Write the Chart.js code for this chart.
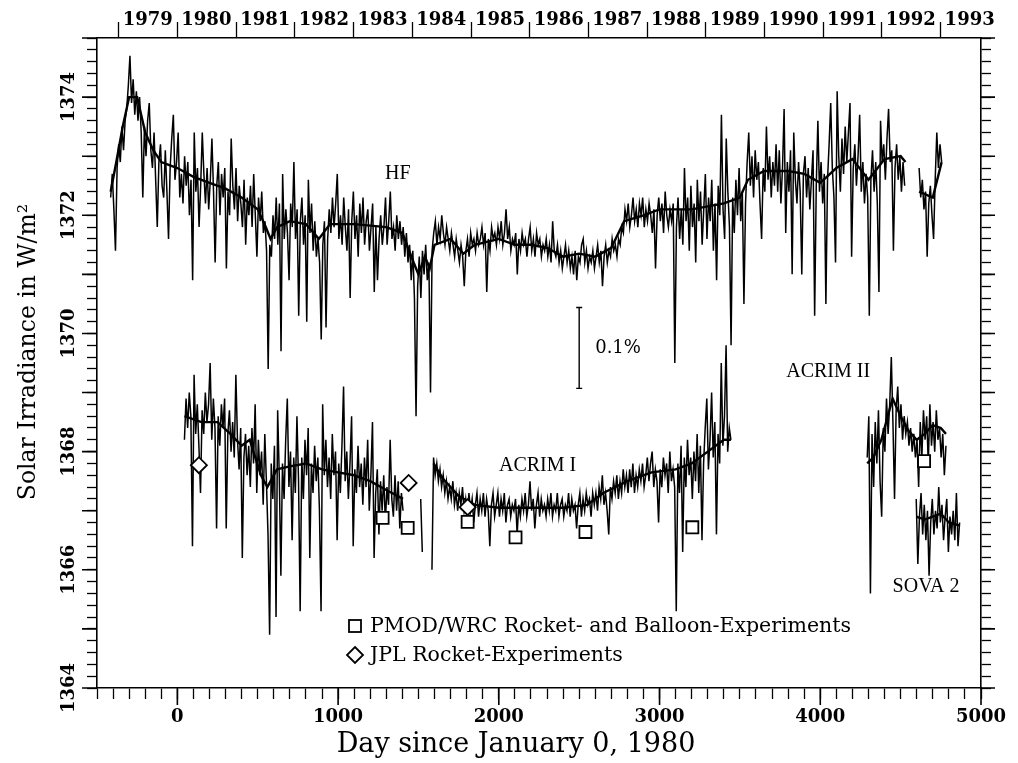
<!DOCTYPE html>
<html><head><meta charset="utf-8">
<script src="https://cdn.jsdelivr.net/npm/chart.js@4.4.0/dist/chart.umd.min.js"></script>
<style>html,body{margin:0;padding:0;background:#fff;}canvas{display:block;}</style>
</head><body>
<canvas id="c" width="1018" height="763"></canvas>
<script>
// ---------- DATA ----------
const dayStep = 10;
const hfStart = -415;
const hfValues = [
1372.3,1372.7,1372.1,1371.4,1372.8,1373.2,1372.9,1373.5,1373.1,1373.6,
1373.8,1374.2,1374.7,1373.9,1374.3,1373.7,1374.1,1373.6,1374.0,1373.4,
1372.3,1373.5,1373.0,1373.6,1373.9,1373.1,1372.8,1373.4,1372.6,1371.8,
1372.9,1373.2,1372.5,1372.3,1373.1,1372.4,1371.6,1372.8,1373.3,1373.7,
1372.6,1372.9,1373.4,1372.3,1372.7,1372.2,1373.0,1372.5,1372.9,1372.0,
1372.6,1370.9,1373.4,1372.4,1372.8,1371.8,1372.5,1373.4,1372.7,1372.2,
1372.8,1372.1,1372.6,1373.3,1372.4,1371.2,1372.5,1372.9,1372.0,1372.7,
1372.3,1372.8,1371.1,1372.4,1372.0,1373.3,1372.5,1372.1,1372.8,1371.9,
1372.5,1372.2,1371.8,1372.6,1371.5,1372.3,1372.0,1372.5,1371.8,1372.7,
1372.0,1371.3,1372.3,1371.9,1372.4,1371.7,1371.9,1371.4,1369.4,1371.5,
1371.3,1372.0,1371.6,1372.3,1371.5,1372.2,1369.7,1372.7,1371.6,1372.1,
1371.7,1370.9,1372.2,1371.8,1372.9,1371.6,1372.1,1370.3,1371.9,1372.3,
1371.5,1372.0,1370.2,1372.6,1371.7,1372.2,1371.4,1371.9,1371.3,1371.6,
1371.2,1369.9,1371.5,1371.9,1370.1,1371.6,1372.1,1371.7,1372.3,1371.8,
1372.2,1372.7,1371.6,1372.0,1371.5,1372.3,1371.8,1371.4,1372.1,1370.6,
1371.9,1372.4,1371.6,1372.0,1371.3,1372.2,1371.7,1372.3,1371.5,1371.9,
1372.1,1371.4,1371.8,1372.2,1370.7,1371.8,1370.9,1371.6,1372.0,1371.5,
1371.8,1372.3,1371.5,1371.9,1372.4,1371.6,1371.8,1371.4,1372.0,1371.6,
1371.9,1371.5,1371.8,1371.3,1371.7,1371.2,1371.5,1370.9,1371.4,1370.6,
1368.6,1370.8,1371.3,1370.6,1371.4,1371.0,1371.5,1370.9,1371.2,1369.0,
1371.4,1371.7,1371.9,1371.5,1371.8,1371.6,1372.0,1371.7,1371.5,1371.8,
1371.6,1371.4,1371.7,1371.5,1371.3,1371.6,1371.4,1371.2,1371.5,1371.3,
1370.8,1371.4,1371.6,1371.3,1371.7,1371.5,1371.6,1371.4,1371.7,1371.5,
1371.6,1371.8,1371.5,1371.7,1370.7,1371.6,1371.4,1371.8,1371.6,1371.7,
1371.5,1371.8,1371.6,1371.9,1371.5,1371.7,1372.1,1371.6,1371.8,1371.4,
1371.6,1371.5,1371.7,1371.0,1371.6,1371.4,1371.7,1371.5,1371.6,1371.3,
1371.6,1371.8,1371.4,1371.6,1371.3,1371.7,1371.5,1371.6,1371.3,1371.5,
1371.4,1371.6,1371.3,1371.5,1371.2,1371.9,1371.4,1371.3,1371.5,1371.2,
1371.4,1371.1,1371.3,1371.5,1371.2,1371.4,1371.1,1371.3,1371.0,1371.4,
1370.9,1371.3,1371.2,1371.5,1371.6,1371.2,1371.4,1371.1,1371.3,1371.2,
1371.4,1371.1,1371.3,1371.5,1371.2,1371.4,1370.8,1371.3,1371.5,1371.2,
1371.4,1371.3,1371.6,1371.4,1371.5,1371.3,1371.6,1371.5,1371.8,1371.7,
1372.1,1371.9,1372.2,1371.8,1372.0,1372.3,1371.9,1372.1,1371.8,1372.2,
1372.0,1372.3,1371.8,1372.1,1371.9,1372.2,1372.0,1371.7,1372.1,1371.1,
1372.0,1372.3,1371.9,1372.2,1371.7,1372.4,1372.0,1371.8,1372.1,1371.9,
1372.2,1369.5,1371.8,1372.3,1371.6,1372.1,1371.5,1372.8,1371.9,1372.3,
1371.4,1372.5,1371.8,1372.2,1371.2,1372.6,1371.9,1372.4,1371.5,1372.1,
1372.7,1371.6,1372.3,1371.9,1372.6,1371.4,1372.2,1370.9,1372.5,1372.0,
1373.7,1372.1,1371.6,1373.3,1372.4,1371.8,1369.8,1372.3,1371.7,1372.6,
1372.0,1372.8,1371.9,1372.4,1370.5,1372.2,1372.9,1373.4,1372.5,1373.0,
1372.3,1373.1,1372.6,1372.9,1372.2,1371.6,1372.8,1372.4,1373.5,1372.6,
1373.0,1372.3,1372.9,1372.5,1373.2,1372.4,1373.1,1372.2,1372.8,1373.8,
1371.7,1372.9,1372.4,1373.1,1371.0,1373.4,1372.6,1372.2,1372.9,1372.4,
1371.0,1372.7,1373.0,1372.3,1372.8,1372.1,1372.6,1373.1,1370.3,1372.5,
1373.6,1372.4,1372.9,1372.2,1372.7,1370.5,1372.6,1373.2,1373.9,1372.8,
1372.3,1371.2,1374.1,1373.0,1372.4,1373.3,1372.7,1373.5,1372.9,1373.4,
1373.9,1371.3,1372.8,1373.2,1372.5,1373.0,1373.7,1372.4,1372.9,1372.2,
1372.7,1372.3,1370.3,1372.6,1373.1,1372.4,1372.9,1372.2,1370.7,1373.6,
1372.9,1373.2,1372.6,1373.3,1373.8,1372.9,1373.1,1371.4,1372.8,1373.2,
1372.6,1373.0,1372.4,1372.9,1372.5,
null,null,null,null,null,null,null,null,
1372.8,1372.3,1372.6,1372.1,1372.4,1371.3,1372.2,1372.5,1372.0,1371.6,
1372.6,1373.4,1372.8,1373.2,1372.9
];
const hfSmoothDays = [-415,-380,-340,-300,-250,-200,-150,-100,-50,0,100,200,300,400,500,550,580,620,700,800,880,950,1100,1300,1400,1470,1500,1540,1570,1600,1700,1780,1850,2000,2100,2200,2300,2400,2500,2600,2700,2780,2900,3000,3100,3200,3300,3400,3500,3550,3650,3800,3900,4000,4100,4200,4300,4400,4500,4530,4570,4615,4700,4755];
const hfSmoothVals = [1372.4,1372.9,1373.5,1374.0,1374.0,1373.4,1373.1,1372.9,1372.85,1372.8,1372.65,1372.55,1372.45,1372.3,1372.1,1371.8,1371.6,1371.8,1371.9,1371.85,1371.6,1371.85,1371.85,1371.8,1371.7,1371.2,1371.0,1371.3,1371.1,1371.5,1371.6,1371.35,1371.5,1371.6,1371.5,1371.5,1371.45,1371.3,1371.35,1371.3,1371.45,1371.9,1372.0,1372.1,1372.1,1372.1,1372.15,1372.2,1372.3,1372.6,1372.75,1372.75,1372.7,1372.55,1372.8,1372.95,1372.6,1372.95,1373.0,1372.9,null,1372.4,1372.3,1372.9];

const acrim1Start = 44;
const acrim1Values = [
1368.2,1368.9,1368.4,1369.0,1368.6,1366.4,1369.3,1368.3,1368.8,1368.1,
1367.3,1368.7,1368.3,1369.0,1368.5,1368.8,1369.5,1368.2,1368.9,1368.4,
1366.7,1368.6,1368.1,1368.8,1368.4,1368.9,1366.7,1368.3,1368.7,1368.0,
1368.5,1367.9,1369.3,1368.2,1367.7,1368.4,1366.2,1367.9,1368.3,1367.6,
1368.1,1367.4,1368.4,1367.8,1368.8,1367.3,1368.2,1367.6,1368.0,1367.1,
1368.3,1367.5,1366.6,1364.9,1367.8,1367.2,1368.1,1365.2,1368.7,1367.6,
1365.9,1367.8,1367.2,1368.2,1368.9,1367.4,1368.0,1366.5,1367.9,1367.3,
1368.6,1367.5,1365.3,1367.9,1367.2,1368.2,1367.6,1368.4,1366.2,1367.8,
1367.3,1368.1,1367.5,1367.9,1367.0,1365.3,1368.8,1367.6,1368.2,1367.4,
1367.9,1367.2,1368.3,1367.6,1368.0,1366.5,1367.8,1367.3,1368.1,1369.1,
1367.5,1368.0,1367.2,1367.8,1368.6,1366.4,1367.7,1367.3,1368.1,1367.4,
1367.8,1367.1,1367.9,1367.4,1368.2,1367.0,1367.6,1368.5,1366.2,1367.3,
1367.7,1366.6,1367.5,1367.0,1367.6,1366.8,1367.4,1367.1,1368.2,1367.2,
1366.9,1367.6,1367.0,1367.5,1366.7,1367.3,1367.0,
null,null,null,null,null,null,null,null,null,null,
1367.2,1366.3,
null,null,null,null,null,
1366.0,
1367.9,1367.6,1367.8,1367.5,1367.7,1367.4,1367.6,1367.3,1367.5,1367.2,
1367.4,1367.2,1367.5,1367.1,1367.3,1367.0,1367.3,1367.1,1367.4,1367.0,
1367.2,1366.9,1367.3,1367.0,1367.2,1366.8,1367.1,1367.3,1366.9,1367.2,
1367.0,1367.3,1366.9,1367.2,1367.0,1366.4,1367.1,1367.3,1366.9,1367.1,
1367.3,1366.9,1367.2,1367.0,1367.3,1366.8,1367.1,1367.2,1366.9,1367.1,
1367.0,1367.2,1366.6,1367.1,1366.9,1367.2,1367.0,1367.3,1366.9,1367.1,
1367.5,1367.0,1367.2,1366.7,1367.1,1367.3,1366.9,1367.2,1367.0,1367.1,
1366.9,1367.2,1367.0,1367.3,1366.9,1367.1,1367.0,1367.3,1366.9,1367.1,
1367.2,1366.9,1367.1,1367.0,1367.3,1366.9,1367.2,1367.0,1367.1,1366.7,
1367.1,1367.3,1366.9,1367.2,1367.0,1367.3,1367.1,1367.2,1366.9,1367.3,
1367.1,1367.3,1367.0,1367.4,1367.2,1367.6,1367.1,1367.3,1367.0,1366.6,
1367.4,1367.2,1367.5,1367.3,1367.6,1367.2,1367.5,1367.3,1367.7,1367.4,
1367.6,1367.3,1367.7,1367.4,1367.8,1367.3,1367.6,1367.4,1367.7,1367.5,
1367.8,1367.4,1367.6,1367.9,1367.5,1367.8,1368.0,1367.4,1367.7,1367.5,
1366.8,1367.7,1367.4,1367.9,1367.6,1367.8,1367.3,1368.0,1367.5,1367.7,
1367.4,1365.3,1367.8,1367.3,1368.1,1366.3,1367.9,1367.4,1368.2,1367.6,
1367.9,1367.2,1368.0,1367.5,1368.3,1367.3,1368.1,1366.5,1367.8,1368.4,
1368.9,1367.7,1368.2,1369.0,1367.9,1368.5,1366.6,1368.3,1367.8,1369.5,
1368.1,1368.6,1369.8,1368.0,1368.4,1368.2
];
const acrim1SmoothDays = [44,150,250,330,400,450,520,560,620,700,800,900,1000,1100,1200,1300,1404,1500,1594,1650,1750,1850,2000,2200,2400,2550,2650,2800,2950,3100,3200,3300,3400,3444];
const acrim1SmoothVals = [1368.6,1368.5,1368.5,1368.3,1368.1,1368.2,1367.6,1367.4,1367.7,1367.75,1367.8,1367.7,1367.65,1367.6,1367.5,1367.35,1367.2,null,1367.8,1367.55,1367.25,1367.1,1367.05,1367.05,1367.05,1367.1,1367.3,1367.5,1367.65,1367.7,1367.8,1368.0,1368.2,1368.2];

const acrim2Start = 4292;
const acrim2Values = [
1367.9,1368.6,1365.6,1368.3,1367.4,1368.5,1367.8,1368.7,1367.5,1366.9,
1368.4,1368.0,1368.9,1368.3,1368.8,1369.6,1368.5,1367.2,1368.7,1369.1,
1368.4,1368.8,1368.2,1368.6,1368.3,1368.5,1368.1,1368.4,1368.0,1368.3,
1367.9,1368.2,1367.4,1368.5,1367.9,1368.7,1368.2,1368.6,1367.8,1368.8,
1368.1,1368.5,1368.0,1368.7,1368.2,1368.4,1367.9,1368.3,1367.6,1368.1
];
const acrim2SmoothDays = [4292,4330,4380,4420,4450,4500,4550,4600,4650,4700,4750,4782];
const acrim2SmoothVals = [1367.8,1367.9,1368.2,1368.6,1368.9,1368.6,1368.35,1368.2,1368.3,1368.45,1368.4,1368.3];

const sovaStart = 4597;
const sovaValues = [
1367.2,1366.1,1366.9,1367.3,1366.6,1367.1,1366.5,1367.0,1365.9,1366.8,
1367.2,1366.6,1367.0,1366.7,1367.4,1366.8,1367.1,1366.5,1366.9,1367.2,
1366.3,1366.9,1366.6,1367.0,1366.5,1367.3,1366.4,1366.8
];
const sovaSmoothDays = [4597,4650,4700,4750,4800,4867];
const sovaSmoothVals = [1366.9,1366.85,1366.9,1366.95,1366.8,1366.75];

const pmodDays = [1277,1433,1806,2104,2539,3204,4646];
const pmodVals = [1366.88,1366.71,1366.81,1366.55,1366.64,1366.72,1367.84];
const jplDays = [134,1439,1806];
const jplVals = [1367.77,1367.47,1367.06];

const yearStartDays = [-365,0,366,731,1096,1461,1827,2192,2557,2922,3288,3653,4018,4383,4749];
const yearLabels = ['1979','1980','1981','1982','1983','1984','1985','1986','1987','1988','1989','1990','1991','1992','1993'];
const xLabelValues = [0,1000,2000,3000,4000,5000];
const yLabelValues = [1364,1366,1368,1370,1372,1374];
const yMajorValues = [1364,1365,1366,1367,1368,1369,1370,1371,1372,1373,1374,1375];

const seriesLabels = {hf:'HF', a1:'ACRIM I', a2:'ACRIM II', sova:'SOVA 2'};
const legendLabels = ['PMOD/WRC Rocket- and Balloon-Experiments','JPL Rocket-Experiments'];
const xTitle = 'Day since January 0, 1980';
const yTitle = 'Solar Irradiance in W/m\u00B2';
const scaleBar = {day:2500, low:1369.07, high:1370.44, label:'0.1%'};
const textAnchors = [
  {t:seriesLabels.hf, d:1371, v:1372.71},
  {t:seriesLabels.a1, d:2241, v:1367.76},
  {t:seriesLabels.a2, d:4049, v:1369.35},
  {t:seriesLabels.sova, d:4658, v:1365.71}
];

// ---------- BUILD ----------
const regular = (start, vals) => vals.map((v,i)=>({x:start+i*dayStep, y:v}));
const paired = (days, vals) => days.map((d,i)=>({x:d, y:vals[i]}));

const lineDs = (data, w) => ({type:'line', data, borderColor:'#000', borderWidth:w, pointRadius:0, tension:0, spanGaps:false, order:2});

const datasets = [
  {type:'scatter', data:paired(pmodDays,pmodVals), pointStyle:'rect', pointRadius:8.5, backgroundColor:'#fff', borderColor:'#000', borderWidth:1.8, order:0},
  {type:'scatter', data:paired(jplDays,jplVals), pointStyle:'rectRot', pointRadius:8, backgroundColor:'#fff', borderColor:'#000', borderWidth:1.8, order:0},
  Object.assign(lineDs(paired(hfSmoothDays,hfSmoothVals),2.4),{order:1}),
  Object.assign(lineDs(paired(acrim1SmoothDays,acrim1SmoothVals),2.4),{order:1}),
  Object.assign(lineDs(paired(acrim2SmoothDays,acrim2SmoothVals),2.4),{order:1}),
  Object.assign(lineDs(paired(sovaSmoothDays,sovaSmoothVals),2.4),{order:1}),
  lineDs(regular(hfStart,hfValues),1.5),
  lineDs(regular(acrim1Start,acrim1Values),1.5),
  lineDs(regular(acrim2Start,acrim2Values),1.5),
  lineDs(regular(sovaStart,sovaValues),1.5)
];

const tickFont = {family:'"DejaVu Serif"', size:18, weight:'bold'};

const overlay = {
  id:'overlay',
  afterDraw(chart){
    const {ctx, chartArea:a, scales:{x,y}} = chart;
    ctx.save();
    ctx.strokeStyle='#000'; ctx.fillStyle='#000';
    ctx.lineWidth=1.6;
    ctx.beginPath();
    for(const v of yMajorValues){const py=y.getPixelForValue(v); ctx.moveTo(a.left-15,py); ctx.lineTo(a.left,py); ctx.moveTo(a.right,py); ctx.lineTo(a.right+14,py);}
    for(const v of xLabelValues){const px=x.getPixelForValue(v); ctx.moveTo(px,a.bottom); ctx.lineTo(px,a.bottom+17);}
    ctx.stroke();
    ctx.font='bold 18px "DejaVu Serif"';
    ctx.textAlign='center'; ctx.textBaseline='middle';
    for(const v of yLabelValues){const py=y.getPixelForValue(v); ctx.save(); ctx.translate(a.left-28,py); ctx.rotate(-Math.PI/2); ctx.fillText(String(v),0,0); ctx.restore();}
    ctx.font='27px "DejaVu Serif"';
    ctx.fillText(xTitle, 516, 745);
    ctx.font='23.5px "DejaVu Serif"';
    ctx.save(); ctx.translate(29, 352); ctx.rotate(-Math.PI/2); ctx.fillText(yTitle,0,0); ctx.restore();
    ctx.font='20px "Liberation Serif"';
    for(const t of textAnchors){ctx.fillText(t.t, x.getPixelForValue(t.d), y.getPixelForValue(t.v));}
    const bx=x.getPixelForValue(scaleBar.day), by1=y.getPixelForValue(scaleBar.high), by2=y.getPixelForValue(scaleBar.low);
    ctx.lineWidth=1.4;
    ctx.beginPath(); ctx.moveTo(bx,by1); ctx.lineTo(bx,by2); ctx.moveTo(bx-3,by1); ctx.lineTo(bx+3,by1); ctx.moveTo(bx-3,by2); ctx.lineTo(bx+3,by2); ctx.stroke();
    ctx.font='18px "DejaVu Serif"'; ctx.textAlign='left';
    ctx.fillText(scaleBar.label, bx+16, (by1+by2)/2);
    ctx.font='20.5px "DejaVu Serif"'; ctx.textAlign='left';
    ctx.lineWidth=1.8;
    ctx.fillStyle='#fff'; ctx.fillRect(349,620,12,12); ctx.strokeRect(349,620,12,12);
    ctx.beginPath(); ctx.moveTo(355,647); ctx.lineTo(363,655); ctx.lineTo(355,663); ctx.lineTo(347,655); ctx.closePath(); ctx.fill(); ctx.stroke();
    ctx.fillStyle='#000';
    ctx.fillText(legendLabels[0], 370, 627);
    ctx.fillText(legendLabels[1], 370, 656);
    ctx.restore();
  }
};

new Chart(document.getElementById('c'), {
  data:{datasets},
  options:{
    responsive:false, animation:false, events:[],
    layout:{padding:0},
    plugins:{legend:{display:false}, tooltip:{enabled:false}},
    scales:{
      x:{type:'linear', position:'bottom', min:-500, max:5000,
        afterFit(s){s.height=75;},
        border:{display:true,color:'#000',width:1.6},
        grid:{drawOnChartArea:false, drawTicks:true, tickLength:11, color:'#000', tickWidth:1.3},
        ticks:{stepSize:100, autoSkip:false, maxRotation:0, color:'#000', font:tickFont, padding:8,
          callback:(v)=> xLabelValues.includes(Math.round(v)) ? String(Math.round(v)) : ''}},
      xTop:{type:'linear', position:'top', min:-500, max:5000,
        afterFit(s){s.height=38;},
        afterBuildTicks(s){s.ticks=yearStartDays.map(v=>({value:v}));},
        border:{display:true,color:'#000',width:1.6},
        grid:{drawOnChartArea:false, drawTicks:true, tickLength:16, color:'#000', tickWidth:1.3},
        ticks:{autoSkip:false, maxRotation:0, color:'#000', font:tickFont, padding:-9, labelOffset:29,
          callback:(v,i)=> yearLabels[i]}},
      y:{type:'linear', position:'left', min:1364, max:1375,
        afterFit(s){s.width=97;},
        border:{display:true,color:'#000',width:1.6},
        grid:{drawOnChartArea:false, drawTicks:true, tickLength:10, color:'#000', tickWidth:1.3},
        ticks:{stepSize:0.2, autoSkip:false, callback:()=>''}},
      yRight:{type:'linear', position:'right', min:1364, max:1375,
        afterFit(s){s.width=37;},
        border:{display:true,color:'#000',width:1.6},
        grid:{drawOnChartArea:false, drawTicks:true, tickLength:10, color:'#000', tickWidth:1.3},
        ticks:{stepSize:0.2, autoSkip:false, callback:()=>''}}
    }
  },
  plugins:[overlay]
});
</script>
</body></html>
